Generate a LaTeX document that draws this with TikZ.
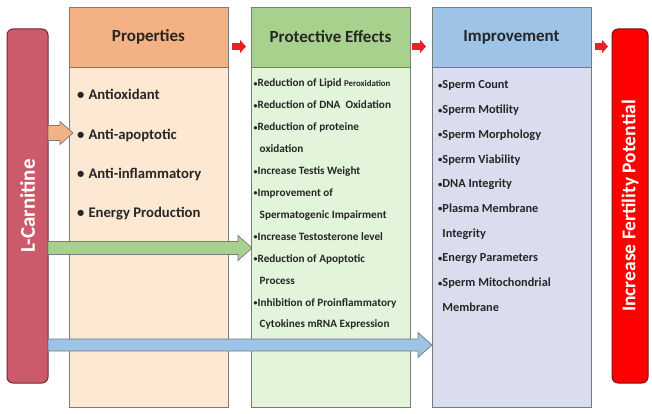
\documentclass[tikz,border=0pt]{standalone}
\usepackage{fontspec}
\setmainfont{Carlito}
\usetikzlibrary{arrows.meta,positioning,calc}
\definecolor{txtdark}{HTML}{262626}
\definecolor{boxedge}{HTML}{7A7A7A}
\definecolor{carnfill}{HTML}{CB5B6B}
\definecolor{carnline}{HTML}{6A2A33}
\definecolor{propshead}{HTML}{F4B183}
\definecolor{propsbody}{HTML}{FDE8D4}
\definecolor{effhead}{HTML}{A9D18E}
\definecolor{effbody}{HTML}{E2F5DA}
\definecolor{imphead}{HTML}{9DC3E6}
\definecolor{impbody}{HTML}{D9DDEE}
\definecolor{fertfill}{HTML}{FF0000}
\definecolor{fertline}{HTML}{6E1A1A}
\definecolor{stepred}{HTML}{E8202A}
\newcommand{\dotmark}{\raisebox{0.6pt}{\scalebox{0.7}{\textbullet}}}
\tikzset{
  colhead/.style={draw=boxedge,line width=0.8pt,minimum width=159pt,minimum height=60pt,inner sep=0pt,outer sep=0pt,text=txtdark,font=\fontsize{17}{20}\selectfont\bfseries},
  colbody/.style={draw=boxedge,line width=0.8pt,minimum width=159pt,minimum height=340pt,inner sep=0pt,outer sep=0pt},
  sidebar/.style={line width=1pt,rounded corners=6pt,minimum height=354pt,inner sep=0pt,outer sep=0pt,text=white},
  bigarrow/.style={draw=boxedge,line width=0.7pt,line join=miter},
  redstep/.style={-{Triangle[length=6pt,width=13pt]},line width=7pt,color=stepred},
}
\begin{document}
\begin{tikzpicture}[x=1pt,y=1pt,
  propitem/.style={anchor=base west,inner sep=0pt,text=txtdark,font=\fontsize{14.7}{17}\selectfont\bfseries},
  effitem/.style={anchor=base west,inner sep=0pt,text=txtdark,font=\fontsize{11.2}{13}\selectfont\bfseries},
  impitem/.style={anchor=base west,inner sep=0pt,text=txtdark,font=\fontsize{12.3}{14}\selectfont\bfseries}]
  \useasboundingbox (0,0) rectangle (652,413);
  \node[sidebar,draw=carnline,fill=carnfill,minimum width=41pt] (lc) at (27.5,207) {\rotatebox{90}{\fontsize{21}{24}\selectfont\bfseries L-Carnitine}};
  \node[colhead,fill=propshead] (ph) at (148.5,376) {Properties};
  \node[colbody,fill=propsbody,below=0pt of ph] (pb) {};
  \node[colhead,fill=effhead,right=23pt of ph] (eh) {Protective Effects};
  \node[colbody,fill=effbody,below=0pt of eh] (eb) {};
  \node[colhead,fill=imphead,right=22pt of eh] (ih) {Improvement};
  \node[colbody,fill=impbody,below=0pt of ih] (ib) {};
  \node[sidebar,draw=fertline,fill=fertfill,minimum width=36pt] (fp) at (630,207) {\rotatebox{90}{\fontsize{19.5}{22}\selectfont\bfseries Increase Fertility Potential}};

  \foreach \t [count=\i] in {Antioxidant,Anti-apoptotic,Anti-inflammatory,Energy Production}
    \node[propitem] (pi\i) at ($(pb.north west)+(8,-33-39.3*\i+39.3)$) {\textbullet\hspace{4pt}\t};
  \foreach \t [count=\i] in {{\dotmark Reduction of Lipid {\fontsize{8.8}{10}\selectfont Peroxidation}},
      {\dotmark Reduction of DNA\ \ Oxidation},{\dotmark Reduction of proteine},{\hspace*{6pt}oxidation},
      {\dotmark Increase Testis Weight},{\dotmark Improvement of},{\hspace*{6pt}Spermatogenic Impairment},
      {\dotmark Increase Testosterone level},{\dotmark Reduction of Apoptotic},{\hspace*{6pt}Process},
      {\dotmark Inhibition of Proinflammatory},{\hspace*{6pt}Cytokines mRNA Expression}}
    \node[effitem] (ei\i) at ($(eb.north west)+(2.5,-20-21.9*\i+21.9)$) {\t};
  \foreach \t [count=\i] in {{\dotmark Sperm Count},{\dotmark Sperm Motility},{\dotmark Sperm Morphology},
      {\dotmark Sperm Viability},{\dotmark DNA Integrity},{\dotmark Plasma Membrane},{\phantom{\dotmark}Integrity},
      {\dotmark Energy Parameters},{\dotmark Sperm Mitochondrial},{\phantom{\dotmark}Membrane}}
    \node[impitem] (ii\i) at ($(ib.north west)+(6,-22-24.7*\i+24.7)$) {\t};

  \draw[redstep] ($(ph.east)+(4,-9.5)$) -- ($(eh.west)+(-5,-9.5)$);
  \draw[redstep] ($(eh.east)+(2,-9.5)$) -- ($(ih.west)+(-6,-9.5)$);
  \draw[redstep] ($(ih.east)+(4,-9.5)$) -- ($(fp.west |- ih.east)+(-4,-9.5)$);

  \coordinate (t1) at ($(lc.east)+(0,73)$);
  \coordinate (h1) at ($(pb.west |- t1)+(4,0)$);
  \draw[bigarrow,fill=propshead] ($(t1)+(0,7.5)$) -- ($(h1)+(-13,7.5)$) -- ($(h1)+(-13,11.5)$) -- (h1)
    -- ($(h1)+(-13,-11.5)$) -- ($(h1)+(-13,-7.5)$) -- ($(t1)+(0,-7.5)$) -- cycle;
  \coordinate (t2) at ($(lc.east)+(0,-42)$);
  \coordinate (h2) at ($(eb.west |- t2)+(1,0)$);
  \draw[bigarrow,fill=effhead] ($(t2)+(0,6.5)$) -- ($(h2)+(-14,6.5)$) -- ($(h2)+(-14,12.5)$) -- (h2)
    -- ($(h2)+(-14,-12.5)$) -- ($(h2)+(-14,-6.5)$) -- ($(t2)+(0,-6.5)$) -- cycle;
  \coordinate (t3) at ($(lc.east)+(0,-139)$);
  \coordinate (h3) at (ib.west |- t3);
  \draw[bigarrow,fill=imphead] ($(t3)+(0,6)$) -- ($(h3)+(-14,6)$) -- ($(h3)+(-14,12.5)$) -- (h3)
    -- ($(h3)+(-14,-12.5)$) -- ($(h3)+(-14,-6)$) -- ($(t3)+(0,-6)$) -- cycle;
\end{tikzpicture}
\end{document}
